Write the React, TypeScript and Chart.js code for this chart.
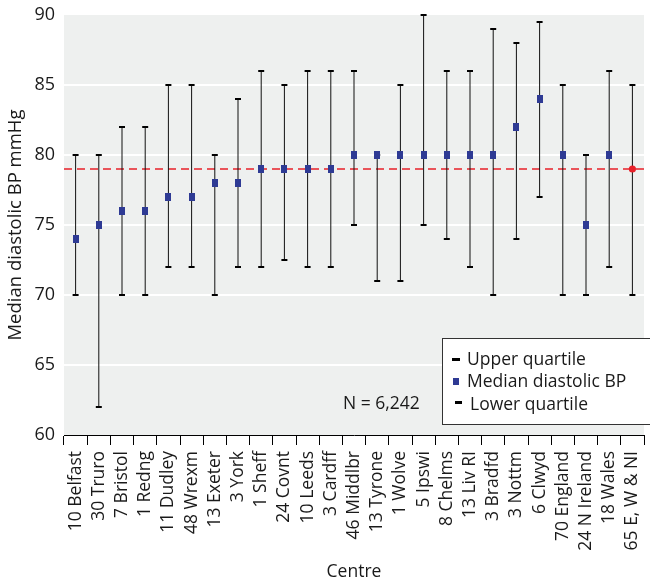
import React, { useEffect, useRef } from 'react';
import { Chart, registerables } from 'chart.js';

Chart.register(...registerables);

const categories = [
  '10 Belfast', '30 Truro', '7 Bristol', '1 Redng', '11 Dudley', '48 Wrexm', '13 Exeter',
  '3 York', '1 Sheff', '24 Covnt', '10 Leeds', '3 Cardff', '46 Middlbr', '13 Tyrone',
  '1 Wolve', '5 Ipswi', '8 Chelms', '13 Liv RI', '3 Bradfd', '3 Nottm', '6 Clwyd',
  '70 England', '24 N Ireland', '18 Wales', '65 E, W & NI',
];
const medians = [74, 75, 76, 76, 77, 77, 78, 78, 79, 79, 79, 79, 80, 80, 80, 80, 80, 80, 80, 82, 84, 80, 75, 80, 79];
const upperQuartiles = [80, 80, 82, 82, 85, 85, 80, 84, 86, 85, 86, 86, 86, 80, 85, 90, 86, 86, 89, 88, 89.5, 85, 80, 86, 85];
const lowerQuartiles = [70, 62, 70, 70, 72, 72, 70, 72, 72, 72.5, 72, 72, 75, 71, 71, 75, 74, 72, 70, 74, 77, 70, 70, 72, 70];
const referenceMedian = 79;
const yMin = 60;
const yMax = 90;
const yStep = 5;
const legendLabels = ['Upper quartile', 'Median diastolic BP', 'Lower quartile'];
const sampleNote = 'N = 6,242';
const xTitle = 'Centre';
const yTitle = 'Median diastolic BP mmHg';

const FONT = "'Open Sans', 'Noto Sans', sans-serif";
const TEXT = '#1a1a1a';
const BLUE = '#2e3a94';
const RED = '#e8202a';
const PLOT_BG = '#eef0ef';

export default function App() {
  const ref = useRef<HTMLCanvasElement>(null);

  useEffect(() => {
    const canvas = ref.current;
    if (!canvas) return;

    const marker = document.createElement('canvas');
    marker.width = 6;
    marker.height = 8;
    const mctx = marker.getContext('2d');
    if (mctx) {
      mctx.fillStyle = BLUE;
      mctx.fillRect(0, 0, 6, 8);
    }
    const n = categories.length;
    const last = n - 1;

    const bgPlugin = {
      id: 'plotBg',
      beforeDraw(chart: any) {
        const { ctx, chartArea: a } = chart;
        ctx.save();
        ctx.fillStyle = PLOT_BG;
        ctx.fillRect(a.left, a.top, a.right - a.left, a.bottom - a.top);
        ctx.restore();
      },
    };

    const refLinePlugin = {
      id: 'refLine',
      beforeDatasetsDraw(chart: any) {
        const { ctx, chartArea: a } = chart;
        const y = chart.scales.y.getPixelForValue(referenceMedian);
        ctx.save();
        ctx.strokeStyle = RED;
        ctx.lineWidth = 1.5;
        ctx.setLineDash([8, 5]);
        ctx.beginPath();
        ctx.moveTo(a.left, y);
        ctx.lineTo(a.right, y);
        ctx.stroke();
        ctx.restore();
      },
    };

    const legendPlugin = {
      id: 'customLegend',
      afterDraw(chart: any) {
        const { ctx, chartArea: a } = chart;
        const bx = a.right - 202;
        const by = a.bottom - 97;
        const bw = 220;
        const bh = 86;
        ctx.save();
        ctx.fillStyle = '#ffffff';
        ctx.fillRect(bx, by, bw, bh);
        ctx.strokeStyle = '#333333';
        ctx.lineWidth = 1;
        ctx.strokeRect(bx + 0.5, by + 0.5, bw, bh);

        ctx.fillStyle = '#000';
        ctx.fillRect(bx + 10, by + 20, 8, 3);
        ctx.fillStyle = BLUE;
        ctx.fillRect(bx + 11, by + 40, 6, 7);
        ctx.fillStyle = '#000';
        ctx.fillRect(bx + 13, by + 63, 7, 3);

        ctx.fillStyle = TEXT;
        ctx.font = `17.5px ${FONT}`;
        ctx.textBaseline = 'alphabetic';
        ctx.textAlign = 'left';
        ctx.fillText(legendLabels[0], bx + 25, by + 27);
        ctx.fillText(legendLabels[1], bx + 25, by + 49);
        ctx.fillText(legendLabels[2], bx + 28, by + 72);

        ctx.fillText(sampleNote, a.left + 279, a.bottom - 26);
        ctx.restore();
      },
    };

    const chart = new Chart(canvas, {
      type: 'bar',
      data: {
        labels: categories,
        datasets: [
          {
            type: 'line',
            label: legendLabels[1],
            data: medians,
            showLine: false,
            pointStyle: medians.map((_, i) => (i === last ? 'circle' : marker)) as any,
            pointRadius: medians.map((_, i) => (i === last ? 3.6 : 4)),
            pointBackgroundColor: medians.map((_, i) => (i === last ? RED : BLUE)),
            pointBorderWidth: 0,
            borderColor: 'rgba(0,0,0,0)',
            clip: false as any,
            order: 0,
          } as any,
          {
            type: 'line',
            label: legendLabels[0],
            data: upperQuartiles,
            showLine: false,
            pointStyle: 'line',
            pointRadius: 3,
            pointBorderWidth: 2,
            pointBorderColor: '#000',
            borderColor: '#000',
            clip: false as any,
            order: 1,
          } as any,
          {
            type: 'line',
            label: legendLabels[2],
            data: lowerQuartiles,
            showLine: false,
            pointStyle: 'line',
            pointRadius: 3,
            pointBorderWidth: 2,
            pointBorderColor: '#000',
            borderColor: '#000',
            clip: false as any,
            order: 1,
          } as any,
          {
            type: 'bar',
            label: 'Interquartile range',
            data: lowerQuartiles.map((l, i) => [l, upperQuartiles[i]]) as any,
            backgroundColor: '#111',
            borderWidth: 0,
            inflateAmount: 0,
            barThickness: 1,
            order: 2,
          } as any,
        ],
      },
      options: {
        responsive: false,
        animation: false,
        layout: { padding: { top: 15, left: 0, right: 0, bottom: 0 } },
        plugins: {
          legend: { display: false },
          tooltip: { enabled: false },
        },
        scales: {
          x: {
            type: 'category',
            offset: true,
            grid: {
              offset: true,
              drawOnChartArea: false,
              drawTicks: true,
              tickLength: 10,
              color: '#000',
              lineWidth: 1,
            },
            border: { display: true, color: '#000', width: 1 },
            ticks: {
              autoSkip: false,
              maxRotation: 90,
              minRotation: 90,
              padding: 6,
              color: TEXT,
              font: { family: FONT, size: 17.5 },
            },
            title: {
              display: true,
              text: xTitle,
              color: TEXT,
              font: { family: FONT, size: 17.5 },
              padding: { top: 4, bottom: 4 },
            },
            afterFit(s: any) {
              s.height = 152;
              s.paddingLeft = 0;
              s.paddingRight = 0;
            },
          } as any,
          y: {
            min: yMin,
            max: yMax,
            ticks: {
              stepSize: yStep,
              padding: 9,
              color: TEXT,
              font: { family: FONT, size: 18 },
            },
            grid: {
              color: (c: any) => (c.tick && (c.tick.value === yMin || c.tick.value === yMax) ? 'rgba(0,0,0,0)' : '#ffffff'),
              lineWidth: 2,
              drawTicks: false,
            },
            border: { display: false },
            title: {
              display: true,
              text: yTitle,
              color: TEXT,
              font: { family: FONT, size: 18.5 },
              padding: { top: 5, bottom: 0 },
            },
            afterFit(s: any) {
              s.width = 64;
              s.paddingTop = 0;
              s.paddingBottom = 0;
            },
          } as any,
        },
      },
      plugins: [bgPlugin, refLinePlugin, legendPlugin],
    });

    return () => chart.destroy();
  }, []);

  return (
    <div style={{ position: 'absolute', left: 0, top: 0, width: 650, height: 587, background: '#fff' }}>
      <canvas ref={ref} width={650} height={587} style={{ display: 'block' }} />
    </div>
  );
}
